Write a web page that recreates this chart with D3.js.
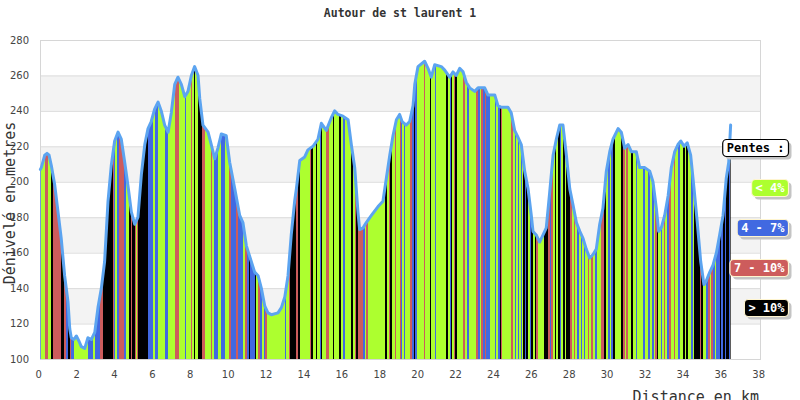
<!DOCTYPE html>
<html><head><meta charset="utf-8">
<script src="https://cdn.jsdelivr.net/npm/d3@7"></script>
<style>body{margin:0;background:#fff} svg{display:block}</style>
</head><body>
<svg id="c" width="800" height="400"></svg>
<script>
const title = "Autour de st laurent 1";
const yLabel = "Dénivelé en metres";
const xLabel = "Distance en km";
const legendTitle = "Pentes :";
const categories = ["< 4%", "4 - 7%", "7 - 10%", "> 10%"];
const xTicks = [0,2,4,6,8,10,12,14,16,18,20,22,24,26,28,30,32,34,36,38];
const yTicks = [100,120,140,160,180,200,220,240,260,280];

// elevation profile: [km, metres]
const profile = [[0.02,207],[0.07,208],[0.25,215],[0.37,216],[0.48,215],[0.60,209],[0.78,198],[0.95,183],[1.12,168],[1.30,147],[1.48,132],[1.57,117],[1.65,112],[1.79,111],[1.92,113],[2.06,110],[2.18,107],[2.36,106],[2.53,112],[2.71,111],[2.89,115],[3.06,129],[3.24,140],[3.41,155],[3.59,189],[3.76,209],[3.94,223],[4.12,228],[4.29,224],[4.47,211],[4.64,198],[4.82,183],[5.00,176],[5.17,180],[5.35,204],[5.53,221],[5.70,230],[5.87,234],[6.05,241],[6.23,245],[6.40,240],[6.58,232],[6.76,228],[6.93,239],[7.11,255],[7.28,259],[7.46,255],[7.64,248],[7.81,251],[7.99,260],[8.16,265],[8.34,260],[8.43,247],[8.60,232],[8.87,228],[9.04,221],[9.22,213],[9.39,219],[9.57,227],[9.83,226],[10.01,211],[10.28,196],[10.54,181],[10.71,177],[10.89,164],[11.15,155],[11.33,149],[11.51,147],[11.68,140],[11.86,130],[12.03,126],[12.21,125],[12.56,126],[12.74,129],[12.92,135],[13.09,147],[13.26,170],[13.44,189],[13.53,196],[13.71,212],[13.97,214],[14.14,218],[14.41,220],[14.67,224],[14.85,233],[15.11,229],[15.37,236],[15.55,240],[15.73,238],[15.99,237],[16.26,235],[16.43,221],[16.61,208],[16.78,183],[16.87,173],[17.05,174],[17.22,177],[17.49,181],[17.84,186],[18.10,189],[18.28,202],[18.46,215],[18.63,226],[18.81,235],[18.98,238],[19.11,234],[19.33,232],[19.51,234],[19.69,243],[19.78,255],[19.95,265],[20.30,268],[20.48,264],[20.65,259],[20.83,266],[21.18,265],[21.36,263],[21.62,259],[21.80,262],[21.97,260],[22.15,264],[22.33,262],[22.50,256],[22.68,253],[22.94,251],[23.12,253],[23.47,253],[23.64,249],[24.00,249],[24.17,243],[24.35,242],[24.70,242],[24.87,239],[25.05,229],[25.23,225],[25.40,221],[25.58,206],[25.76,196],[25.93,181],[26.02,172],[26.19,170],[26.37,166],[26.55,170],[26.72,174],[26.90,194],[27.08,215],[27.25,224],[27.43,232],[27.60,232],[27.78,215],[27.96,196],[28.13,187],[28.31,177],[28.49,172],[28.66,168],[28.83,162],[29.01,157],[29.19,159],[29.36,162],[29.54,176],[29.71,185],[29.89,206],[30.07,217],[30.24,224],[30.51,230],[30.68,228],[30.86,219],[31.04,221],[31.21,217],[31.47,217],[31.65,208],[31.92,208],[32.18,206],[32.35,200],[32.53,185],[32.65,172],[32.79,174],[32.97,181],[33.15,192],[33.32,208],[33.50,217],[33.67,221],[33.82,223],[33.99,220],[34.16,222],[34.34,215],[34.52,196],[34.69,177],[34.87,155],[35.04,142],[35.16,144],[35.35,149],[35.52,153],[35.70,160],[35.87,170],[36.05,181],[36.22,202],[36.35,211],[36.45,232]];

// slope stripes: [start km, category index]
const stripes = [[0.00,1],[0.06,0],[0.28,2],[0.42,0],[0.58,3],[0.68,2],[1.12,3],[1.27,2],[1.39,1],[1.48,3],[1.57,2],[1.64,1],[1.79,0],[2.53,1],[2.80,0],[2.89,1],[3.15,2],[3.33,3],[3.85,2],[3.91,1],[3.98,0],[4.06,1],[4.17,2],[4.43,1],[4.55,0],[4.70,3],[4.80,2],[4.87,3],[5.00,2],[5.05,0],[5.10,2],[5.17,3],[5.70,1],[5.97,0],[6.09,1],[6.23,0],[6.58,1],[6.76,0],[7.11,2],[7.32,0],[7.64,1],[7.72,0],[7.95,2],[8.04,0],[8.11,3],[8.16,0],[8.34,3],[8.55,2],[8.69,0],[9.01,2],[9.08,0],[9.18,1],[9.39,0],[9.57,1],[9.75,0],[9.96,2],[10.10,1],[10.36,2],[10.45,1],[10.71,0],[10.84,2],[10.94,1],[11.02,3],[11.08,1],[11.33,3],[11.40,0],[11.51,2],[11.60,1],[11.72,0],[11.82,1],[11.89,2],[12.00,0],[12.92,1],[12.98,0],[13.13,2],[13.19,3],[13.53,2],[13.62,3],[13.71,0],[14.23,2],[14.32,3],[14.41,0],[14.58,3],[14.64,0],[14.76,1],[14.85,3],[14.90,0],[15.11,2],[15.24,0],[15.46,3],[15.52,0],[15.78,3],[15.87,0],[15.99,1],[16.08,0],[16.40,3],[16.52,0],[16.61,2],[16.70,3],[16.78,2],[17.05,1],[17.14,0],[17.22,2],[17.31,0],[18.19,3],[18.30,0],[18.40,2],[18.49,3],[18.58,0],[18.72,2],[18.81,0],[18.98,2],[19.05,0],[19.07,1],[19.12,0],[19.21,1],[19.28,0],[19.51,2],[19.63,1],[19.74,3],[19.78,1],[19.91,0],[20.27,2],[20.34,0],[20.57,3],[20.62,0],[20.83,1],[20.88,0],[21.44,3],[21.53,0],[21.62,1],[21.71,3],[21.76,0],[21.85,2],[21.92,3],[22.01,0],[22.33,2],[22.41,0],[22.55,1],[22.64,0],[23.03,2],[23.12,1],[23.20,0],[23.29,2],[23.38,1],[23.47,2],[23.56,1],[23.73,0],[24.00,1],[24.08,0],[24.17,1],[24.26,3],[24.31,0],[24.35,2],[24.40,0],[24.87,2],[24.96,0],[25.05,1],[25.14,0],[25.23,1],[25.30,0],[25.37,1],[25.44,0],[25.49,3],[25.58,1],[25.67,3],[25.76,0],[25.85,1],[25.93,3],[26.02,0],[26.11,3],[26.19,2],[26.28,0],[26.60,3],[26.81,2],[26.90,1],[26.99,2],[27.08,0],[27.16,3],[27.25,0],[27.34,3],[27.43,1],[27.51,0],[27.60,3],[27.69,0],[27.78,3],[27.96,2],[28.08,0],[28.18,2],[28.24,0],[28.36,1],[28.43,0],[28.54,1],[28.61,0],[28.71,1],[28.78,0],[28.92,2],[28.99,0],[29.10,2],[29.19,0],[29.31,1],[29.38,0],[29.59,2],[29.77,3],[29.87,0],[29.98,1],[30.07,0],[30.15,1],[30.24,3],[30.33,0],[30.68,3],[30.77,2],[30.86,0],[30.94,2],[31.04,0],[31.21,3],[31.30,0],[31.47,1],[31.53,0],[31.83,1],[31.92,0],[32.09,1],[32.18,0],[32.30,1],[32.39,0],[32.48,2],[32.56,3],[32.62,0],[32.76,1],[32.83,0],[32.93,2],[33.00,0],[33.11,1],[33.18,2],[33.32,0],[33.46,2],[33.53,0],[33.67,1],[33.76,0],[33.94,3],[34.03,0],[34.11,3],[34.20,0],[34.37,1],[34.47,0],[34.52,3],[34.82,2],[34.90,3],[34.99,0],[35.16,1],[35.26,2],[35.35,0],[35.43,2],[35.52,1],[35.61,0],[35.70,1],[35.87,3],[35.96,1],[36.05,3],[36.14,1],[36.22,3],[36.35,1],[36.42,3]];

const palette = ["#adff2f", "#4169e1", "#cd5c5c", "#000000"];
const lineColor = "#5ca4f0";

const svg = d3.select("#c");
const pLeft = 40, pRight = 760, pTop = 40, pBottom = 359;
const x = d3.scaleLinear().domain([0, 38]).range([pLeft, pRight]);
const y = d3.scaleLinear().domain([100, 280]).range([pBottom, pTop]);
const mono = "'DejaVu Sans Mono', 'Liberation Mono', monospace";

// alternating bands
for (let i = 0; i < yTicks.length - 1; i++) {
  const lo = yTicks[i], hi = yTicks[i + 1];
  const idx = yTicks.length - 2 - i;
  if (idx % 2 === 1) {
    svg.append("rect").attr("x", pLeft).attr("y", y(hi)).attr("width", pRight - pLeft)
      .attr("height", y(lo) - y(hi)).attr("fill", "#f3f3f3");
  }
}
// gridlines
svg.append("g").selectAll("line").data(yTicks).join("line")
  .attr("x1", pLeft).attr("x2", pRight).attr("y1", d => y(d) + 0.5).attr("y2", d => y(d) + 0.5)
  .attr("stroke", "#dcdcdc").attr("stroke-width", 1);
svg.append("rect").attr("x", pLeft + 0.5).attr("y", pTop + 0.5).attr("width", pRight - pLeft)
  .attr("height", pBottom - pTop).attr("fill", "none").attr("stroke", "#d6d6d6");

// area clip
const area = d3.area().x(d => x(d[0])).y0(y(100)).y1(d => y(d[1]));
svg.append("defs").append("clipPath").attr("id", "clip").append("path").attr("d", area(profile));

const lastKm = profile[profile.length - 1][0];
const g = svg.append("g").attr("clip-path", "url(#clip)");
g.selectAll("rect").data(stripes).join("rect")
  .attr("x", d => x(d[0]))
  .attr("width", (d, i) => Math.max(0.8, x(i + 1 < stripes.length ? stripes[i + 1][0] : lastKm) - x(d[0]) + 0.3))
  .attr("y", y(280)).attr("height", y(100) - y(280))
  .attr("fill", d => palette[d[1]])
  .attr("shape-rendering", "crispEdges");

svg.append("path").datum(profile)
  .attr("d", d3.line().x(d => x(d[0])).y(d => y(d[1])))
  .attr("fill", "none").attr("stroke", lineColor).attr("stroke-width", 3)
  .attr("stroke-linejoin", "round").attr("stroke-linecap", "round");

// tick labels
const sans = "'DejaVu Sans', Verdana, sans-serif";
svg.append("g").selectAll("text").data(yTicks).join("text")
  .attr("x", 29).attr("y", d => y(d)).attr("dy", "0.36em").attr("text-anchor", "end")
  .attr("font-family", sans).attr("font-size", 10).attr("fill", "#444").text(d => d);
svg.append("g").selectAll("text").data(xTicks).join("text")
  .attr("x", d => x(d) - 1.3).attr("y", 378).attr("text-anchor", "middle")
  .attr("font-family", sans).attr("font-size", 10).attr("fill", "#444").text(d => d);

// titles
svg.append("text").attr("x", 400).attr("y", 17).attr("text-anchor", "middle")
  .attr("font-family", mono).attr("font-weight", "bold").attr("font-size", 11.5)
  .attr("fill", "#333").text(title);
svg.append("text").attr("transform", "translate(15,203) rotate(-90)").attr("text-anchor", "middle")
  .attr("font-family", mono).attr("font-size", 15).attr("fill", "#333").text(yLabel);
svg.append("text").attr("x", 759).attr("y", 402).attr("text-anchor", "end")
  .attr("font-family", mono).attr("font-size", 15).attr("fill", "#333").text(xLabel);

// legend
function legendBox(label, boxTop, fill, textFill, stroke) {
  const grp = svg.append("g");
  const t = grp.append("text").attr("font-family", mono).attr("font-weight", "bold")
    .attr("font-size", 12).attr("fill", textFill).text(label);
  const w = t.node().getComputedTextLength() + 8;
  const rx = 788.5 - w;
  grp.insert("rect", "text").attr("x", rx + 3).attr("y", boxTop + 3).attr("width", w).attr("height", 17)
    .attr("rx", 4).attr("fill", "#c4c4c4");
  grp.insert("rect", "text").attr("x", rx).attr("y", boxTop).attr("width", w).attr("height", 17)
    .attr("rx", 4).attr("fill", fill).attr("stroke", stroke).attr("stroke-width", 1.2);
  t.attr("x", rx + 4).attr("y", boxTop + 12.5);
}
legendBox(legendTitle, 139.5, "#fff", "#000", "#000");
categories.forEach((c, i) => legendBox(c, 179.5 + 40 * i, palette[i], "#fff", "#fff5d0"));
</script>
</body></html>
